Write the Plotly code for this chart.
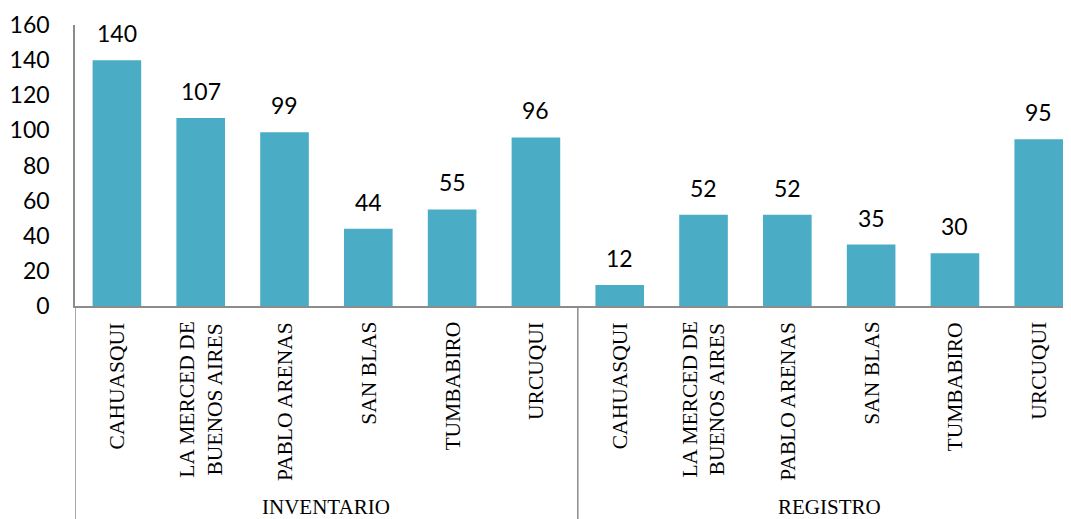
import plotly.graph_objects as go

parishes = ["CAHUASQUI", "LA MERCED DE<br>BUENOS AIRES", "PABLO ARENAS",
            "SAN BLAS", "TUMBABIRO", "URCUQUI"]
groups = ["INVENTARIO", "REGISTRO"]
inventario = [140, 107, 99, 44, 55, 96]
registro = [12, 52, 52, 35, 30, 95]

values = inventario + registro
labels = parishes + parishes
xpos = list(range(len(values)))

BAR = "#4bacc6"
LINE = "#8c8c8c"
SANS = "Lato, Open Sans, sans-serif"
SERIF = "Liberation Serif, Times New Roman, serif"

fig = go.Figure(go.Bar(x=xpos, y=values, width=0.58, marker_color=BAR,
                       marker_line_width=0, hoverinfo="skip"))

# value labels above each bar
for x, v in zip(xpos, values):
    fig.add_annotation(x=x, y=v, text=str(v), showarrow=False, yanchor="bottom",
                       yshift=11, font=dict(family=SANS, size=23, color="#000"))

# rotated category labels under the axis
for x, lab in zip(xpos, labels):
    fig.add_annotation(x=x, y=0, yref="paper", text=lab, showarrow=False,
                       textangle=-90, yanchor="top", yshift=-14,
                       font=dict(family=SERIF, size=21.5, color="#000"))

# group labels
n = len(parishes)
for g, name in enumerate(groups):
    fig.add_annotation(x=g * n + (n - 1) / 2, y=-0.715, yref="paper", text=name,
                       showarrow=False, yanchor="middle",
                       font=dict(family=SERIF, size=21, color="#000"))

# group dividers and y-axis extension below the plot
for xd in [-0.5, n - 0.5]:
    fig.add_shape(type="line", x0=xd, x1=xd, xref="x", y0=0, y1=-0.8, yref="paper",
                  line=dict(color=LINE, width=1.5))

# page body keeps an 8px margin, so the figure is sized to the visible area
fig.update_layout(
    width=1063, height=511,
    margin=dict(l=67, r=0, t=17, b=213),
    plot_bgcolor="white", paper_bgcolor="white",
    showlegend=False,
    bargap=0.42,
)
fig.update_xaxes(range=[-0.5, 11.385], showticklabels=False, ticks="",
                 showgrid=False, zeroline=False, showline=True, automargin=False,
                 linecolor=LINE, linewidth=1.5)
fig.update_yaxes(range=[0, 160], dtick=20, showgrid=False, zeroline=False,
                 showline=True, linecolor=LINE, linewidth=1.5, ticks="",
                 ticklabelstandoff=19, automargin=False,
                 tickfont=dict(family=SANS, size=23, color="#000"))

fig.write_html("out.html")
